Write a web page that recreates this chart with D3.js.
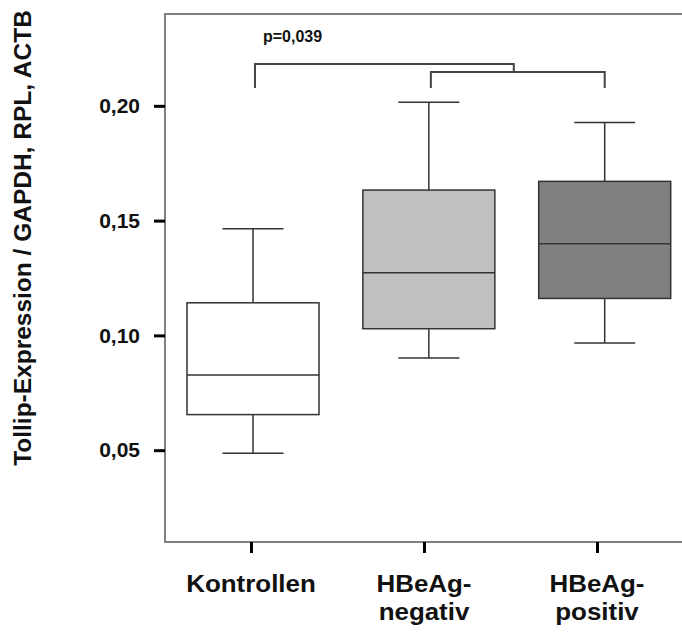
<!DOCTYPE html>
<html>
<head>
<meta charset="utf-8">
<script src="https://cdn.jsdelivr.net/npm/d3@7"></script>
<style>
  body { margin: 0; background: #fff; }
  text { font-family: Arial, "Liberation Sans", sans-serif; font-weight: bold; fill: #111; }
</style>
</head>
<body>
<div id="chartContainer"></div>
<script>
// data
const groups = ['Kontrollen', 'HBeAg-negativ', 'HBeAg-positiv'];
const groupLabels = [['Kontrollen'], ['HBeAg-', 'negativ'], ['HBeAg-', 'positiv']];
const whiskerLow = [0.0487, 0.0901, 0.0967];
const q1 = [0.0655, 0.1029, 0.1161];
const median = [0.0827, 0.1273, 0.1399];
const q3 = [0.1142, 0.1633, 0.1671];
const whiskerHigh = [0.1465, 0.2016, 0.1927];
const boxFills = ['#ffffff', '#c0c0c0', '#808080'];
const yTicks = [0.05, 0.10, 0.15, 0.20];
const pLabel = 'p=0,039';

const width = 682, height = 633;
const plot = { left: 165, top: 14, right: 700, bottom: 542 };

const svg = d3.select('#chartContainer')
    .append('svg')
    .attr('width', width)
    .attr('height', height);

const y = d3.scaleLinear()
    .domain([0.01, 0.24])
    .range([plot.bottom, plot.top]);

// box centres and the axis ticks sit slightly apart in the original
const x = d3.scalePoint().domain(groups).range([253, 604.7]);
const xTick = d3.scalePoint().domain(groups).range([251, 597]);

const boxW = 132, capW = 61;
const stroke = '#333';

const data = groups.map((g, i) => ({
    group: g, lo: whiskerLow[i], q1: q1[i], med: median[i], q3: q3[i], hi: whiskerHigh[i], fill: boxFills[i]
}));

// frame (left + top + bottom, right side runs off the page)
svg.append('path')
    .attr('d', `M${plot.right},${plot.top}H${plot.left}V${plot.bottom}H${plot.right}`)
    .attr('fill', 'none')
    .attr('stroke', '#808080')
    .attr('stroke-width', 2);

const box = svg.selectAll('.box')
    .data(data)
    .enter()
    .append('g')
    .attr('class', 'box')
    .attr('stroke', stroke)
    .attr('stroke-width', 1.5);

box.append('line')
    .attr('x1', d => x(d.group)).attr('x2', d => x(d.group))
    .attr('y1', d => y(d.hi)).attr('y2', d => y(d.q3));
box.append('line')
    .attr('x1', d => x(d.group)).attr('x2', d => x(d.group))
    .attr('y1', d => y(d.q1)).attr('y2', d => y(d.lo));
box.append('line')
    .attr('x1', d => x(d.group) - capW / 2).attr('x2', d => x(d.group) + capW / 2)
    .attr('y1', d => y(d.hi)).attr('y2', d => y(d.hi));
box.append('line')
    .attr('x1', d => x(d.group) - capW / 2).attr('x2', d => x(d.group) + capW / 2)
    .attr('y1', d => y(d.lo)).attr('y2', d => y(d.lo));
box.append('rect')
    .attr('x', d => x(d.group) - boxW / 2)
    .attr('y', d => y(d.q3))
    .attr('width', boxW)
    .attr('height', d => y(d.q1) - y(d.q3))
    .attr('fill', d => d.fill);
box.append('line')
    .attr('x1', d => x(d.group) - boxW / 2).attr('x2', d => x(d.group) + boxW / 2)
    .attr('y1', d => y(d.med)).attr('y2', d => y(d.med));

// y axis
const yAxis = svg.append('g')
    .attr('transform', `translate(${plot.left},0)`)
    .call(d3.axisLeft(y)
        .tickValues(yTicks)
        .tickSize(11)
        .tickPadding(14)
        .tickFormat(d => d3.format('.2f')(d).replace('.', ',')));
yAxis.select('.domain').remove();
yAxis.selectAll('.tick line').attr('stroke', '#000').attr('stroke-width', 3);
yAxis.selectAll('.tick text')
    .attr('font-size', 21)
    .attr('font-family', 'Arial, "Liberation Sans", sans-serif')
    .attr('font-weight', 'bold')
    .attr('fill', '#111');

// x axis
const xAxis = svg.append('g')
    .attr('transform', `translate(0,${plot.bottom})`)
    .call(d3.axisBottom(xTick).tickSize(11).tickFormat(''));
xAxis.select('.domain').remove();
xAxis.selectAll('.tick line').attr('stroke', '#000').attr('stroke-width', 3);

svg.selectAll('.xlabel')
    .data(groups)
    .enter()
    .append('text')
    .attr('class', 'xlabel')
    .attr('text-anchor', 'middle')
    .attr('font-size', 24)
    .attr('transform', d => `translate(${xTick(d)},592) scale(1.08,1)`)
    .selectAll('tspan')
    .data((d, i) => groupLabels[i])
    .enter()
    .append('tspan')
    .attr('x', 0)
    .attr('dy', (d, i) => i === 0 ? 0 : 28)
    .text(d => d);

// y title
svg.append('text')
    .attr('text-anchor', 'middle')
    .attr('font-size', 23)
    .attr('transform', 'translate(31,238) rotate(-90) scale(1.065,1)')
    .text('Tollip-Expression / GAPDH, RPL, ACTB');

// significance brackets
const legBottom = 0.2078, innerTop = 0.2147, outerTop = 0.2182;
const inner = [x(groups[1]) + 2, x(groups[2])];
const innerMid = (inner[0] + inner[1]) / 2 - 4;
const brackets = [
    `M${x(groups[0]) + 2},${y(legBottom)}V${y(outerTop)}H${innerMid}V${y(innerTop)}`,
    `M${inner[0]},${y(legBottom)}V${y(innerTop)}H${inner[1]}V${y(legBottom)}`
];
svg.selectAll('.bracket')
    .data(brackets)
    .enter()
    .append('path')
    .attr('class', 'bracket')
    .attr('d', d => d)
    .attr('fill', 'none')
    .attr('stroke', '#444')
    .attr('stroke-width', 2);

svg.append('text')
    .attr('x', 292.5)
    .attr('y', y(0.2278))
    .attr('text-anchor', 'middle')
    .attr('font-size', 16)
    .text(pLabel);
</script>
</body>
</html>
